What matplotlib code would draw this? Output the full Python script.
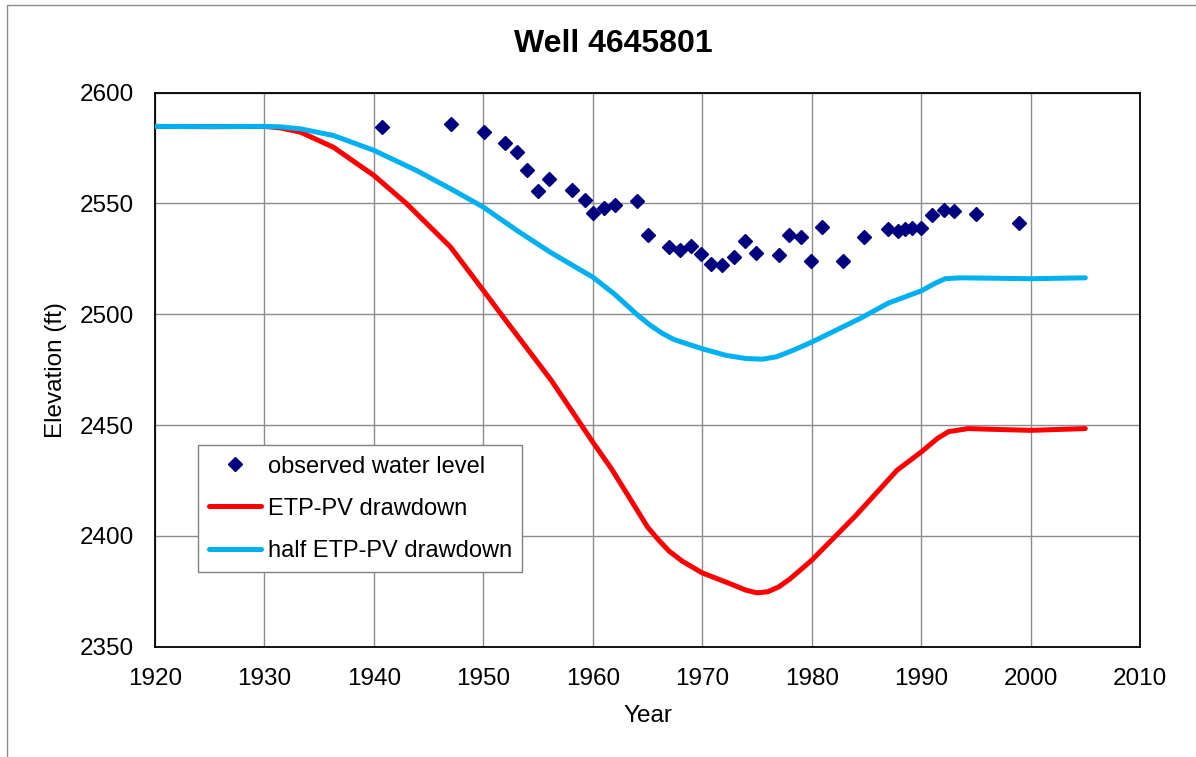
#!/usr/bin/env python3
"""Observed vs simulated water levels for well 4645801."""

import matplotlib

matplotlib.use("Agg")

import matplotlib.pyplot as plt
from matplotlib.patches import Rectangle

plt.rcParams["font.family"] = ["Liberation Sans", "DejaVu Sans"]

# observed water level measurements
obs_year = [
    1940.7, 1947.0, 1950.1, 1952.0, 1953.1, 1954.0, 1955.0, 1956.0, 1958.1,
    1959.3, 1960.0, 1961.0, 1962.0, 1964.0, 1965.0, 1967.0, 1968.0, 1969.0,
    1969.9, 1970.8, 1971.8, 1972.9, 1973.9, 1974.9, 1977.0, 1977.9, 1979.0,
    1979.9, 1980.9, 1982.9, 1984.8, 1987.0, 1987.9, 1988.5, 1989.2, 1990.0,
    1991.0, 1992.1, 1993.0, 1995.0, 1998.9,
]
obs_level = [
    2584.6, 2585.8, 2582.1, 2577.3, 2573.3, 2565.2, 2555.7, 2561.0, 2556.0,
    2551.6, 2545.7, 2547.9, 2549.1, 2551.2, 2535.7, 2530.1, 2529.0, 2530.6,
    2527.1, 2522.6, 2522.2, 2525.9, 2533.1, 2527.7, 2526.8, 2535.8, 2535.0,
    2523.8, 2539.4, 2524.1, 2534.9, 2538.5, 2537.6, 2538.4, 2538.8, 2539.1,
    2544.7, 2547.0, 2546.4, 2545.2, 2541.1,
]

# simulated heads, full ETP-PV pumping
etp_year = [
    1920, 1925, 1930, 1931.5, 1933.3, 1936.3, 1940, 1943, 1947, 1950, 1952,
    1954, 1956.2, 1958, 1960, 1961.7, 1963.5, 1965, 1966, 1967, 1968.2, 1970,
    1972.5, 1974, 1975, 1976, 1977, 1978, 1980, 1984, 1987.8, 1990, 1991.5,
    1992.5, 1994.3, 1997, 2000, 2005,
]
etp_level = [
    2584.7, 2584.6, 2584.7, 2584.0, 2582.1, 2575.3, 2562.6, 2549.8, 2530.3,
    2510.7, 2497.5, 2484.5, 2470.2, 2457.0, 2442.3, 2430.3, 2416.0, 2404.0,
    2398.2, 2393.0, 2388.5, 2383.3, 2378.5, 2375.5, 2374.3, 2374.8, 2377.0,
    2380.5, 2389.0, 2409.0, 2429.6, 2437.8, 2444.0, 2447.0, 2448.4, 2448.0,
    2447.6, 2448.4,
]

# simulated heads, half ETP-PV pumping
half_year = [
    1920, 1925, 1930, 1931.5, 1933.3, 1936.3, 1940, 1943.9, 1947, 1950,
    1953, 1956.1, 1960, 1962, 1964, 1965.2, 1966.3, 1967.4, 1970, 1972.2,
    1974, 1975.5, 1976.8, 1978.3, 1980, 1984.4, 1987, 1990, 1991.3, 1992.2,
    1993.6, 1997, 2000, 2005,
]
half_level = [
    2584.7, 2584.6, 2584.7, 2584.5, 2583.6, 2580.6, 2573.9, 2564.8, 2556.6,
    2548.3, 2538.0, 2528.0, 2516.7, 2509.0, 2500.0, 2495.2, 2491.5, 2488.6,
    2484.4, 2481.4, 2480.0, 2479.7, 2480.8, 2483.7, 2487.4, 2498.0, 2505.0,
    2510.5, 2514.0, 2516.0, 2516.4, 2516.2, 2516.0, 2516.4,
]

x_ticks = list(range(1920, 2011, 10))
y_ticks = list(range(2350, 2601, 50))

fig = plt.figure(figsize=(11.96, 7.57), dpi=100)
ax = fig.add_axes([0.1296, 0.1457, 0.8236, 0.7321])

ax.plot(obs_year, obs_level, linestyle="none", marker="D", markersize=7.2,
        color="#000080", label="observed water level", zorder=4)
ax.plot(etp_year, etp_level, color="#ff0000", linewidth=3.6,
        solid_capstyle="round", solid_joinstyle="round",
        label="ETP-PV drawdown", zorder=3)
ax.plot(half_year, half_level, color="#00b0f0", linewidth=3.6,
        solid_capstyle="round", solid_joinstyle="round",
        label="half ETP-PV drawdown", zorder=3)

ax.set_xlim(1920, 2010)
ax.set_ylim(2350, 2600)
ax.set_xticks(x_ticks)
ax.set_yticks(y_ticks)
ax.tick_params(length=0, labelsize=17.5, pad=15)
ax.grid(True, color="#8c8c8c", linewidth=1.0)
ax.set_axisbelow(True)
for spine in ax.spines.values():
    spine.set_color("black")
    spine.set_linewidth(1.3)

ax.set_xlabel("Year", fontsize=17.5, labelpad=11)
ax.set_ylabel("Elevation (ft)", fontsize=17.5, labelpad=9)
fig.text(0.513, 0.942, "Well 4645801", fontsize=23, fontweight="bold",
         ha="center", va="center")

leg = ax.legend(loc="upper left", bbox_to_anchor=(198 / 1196, 1 - 445 / 757),
                bbox_transform=fig.transFigure, fontsize=17, frameon=True,
                fancybox=False, edgecolor="#808080", framealpha=1,
                handlelength=2.2, handletextpad=0.3, borderpad=0.45,
                labelspacing=0.85, borderaxespad=0)
leg.get_frame().set_linewidth(1.0)

# outer chart frame
fig.add_artist(Rectangle((7 / 1196, -0.1), 2.0, 1.1 - 5 / 757,
                         transform=fig.transFigure, fill=False,
                         edgecolor="#8c8c8c", linewidth=1.0))

fig.savefig("out.png", dpi=100)
